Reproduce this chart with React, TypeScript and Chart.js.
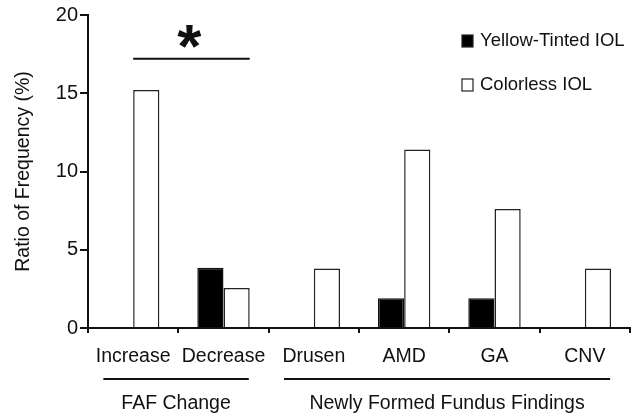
import React, { useEffect, useRef } from "react";
import { Chart, registerables } from "chart.js";

Chart.register(...registerables);

const categories = ["Increase", "Decrease", "Drusen", "AMD", "GA", "CNV"];
const yellowTinted = [0, 3.85, 0, 1.9, 1.9, 0];
const colorless = [15.2, 2.55, 3.8, 11.4, 7.6, 3.8];
const seriesNames = ["Yellow-Tinted IOL", "Colorless IOL"];
const yTicks = [0, 5, 10, 15, 20];
const groupLabels = ["FAF Change", "Newly Formed Fundus Findings"];
const groupFirst = [0, 2];
const groupLast = [1, 5];
const sigFirst = 0;
const sigLast = 1;
const sigValue = 17.2;

const FONT = "'Liberation Sans', Arial, sans-serif";

const overlayPlugin = {
  id: "overlay",
  afterDraw(chart: any) {
    const ctx = chart.ctx;
    const x = chart.scales.x;
    const y = chart.scales.y;
    const area = chart.chartArea;
    const cw = x.getPixelForValue(1) - x.getPixelForValue(0);
    ctx.save();
    ctx.strokeStyle = "#111";
    ctx.fillStyle = "#111";
    // group brackets
    for (let g = 0; g < groupLabels.length; g++) {
      const x0 = x.getPixelForValue(groupFirst[g]) - cw * 0.33;
      const x1 = x.getPixelForValue(groupLast[g]) + cw * 0.28;
      const ly = area.bottom + 51;
      ctx.lineWidth = 2;
      ctx.beginPath();
      ctx.moveTo(x0, ly);
      ctx.lineTo(x1, ly);
      ctx.stroke();
      ctx.font = `19.5px ${FONT}`;
      ctx.textAlign = "center";
      ctx.textBaseline = "middle";
      ctx.fillText(groupLabels[g], (x0 + x1) / 2, area.bottom + 76);
    }
    // significance
    const meta = chart.getDatasetMeta(1);
    const b0 = meta.data[sigFirst];
    const b1 = meta.data[sigLast];
    const sx0 = b0.x - b0.width / 2;
    const sx1 = b1.x + b1.width / 2;
    const sy = y.getPixelForValue(sigValue);
    ctx.lineWidth = 2;
    ctx.beginPath();
    ctx.moveTo(sx0, sy);
    ctx.lineTo(sx1, sy);
    ctx.stroke();
    ctx.font = `bold 62px ${FONT}`;
    ctx.textAlign = "center";
    ctx.textBaseline = "top";
    ctx.fillText("*", (sx0 + sx1) / 2 - 2, sy - 40);
    // legend
    const lx = area.right - 168;
    const ly0 = area.top + 26;
    const ds = chart.data.datasets;
    for (let i = 0; i < ds.length; i++) {
      const cy = ly0 + i * 44;
      ctx.fillStyle = ds[i].backgroundColor;
      ctx.fillRect(lx, cy - 6, 11, 12);
      ctx.lineWidth = 1.2;
      ctx.strokeStyle = "#222";
      ctx.strokeRect(lx, cy - 6, 11, 12);
      ctx.fillStyle = "#111";
      ctx.font = `18.5px ${FONT}`;
      ctx.textAlign = "left";
      ctx.textBaseline = "middle";
      ctx.fillText(ds[i].label, lx + 18, cy);
    }
    ctx.restore();
  },
};

export default function App() {
  const ref = useRef<HTMLCanvasElement | null>(null);
  useEffect(() => {
    if (!ref.current) return;
    const chart = new Chart(ref.current, {
      type: "bar",
      data: {
        labels: categories,
        datasets: [
          {
            label: seriesNames[0],
            data: yellowTinted,
            backgroundColor: "#000",
            borderColor: "#111",
            borderWidth: 1.5,
            barPercentage: 1,
            categoryPercentage: 0.58,
          },
          {
            label: seriesNames[1],
            data: colorless,
            backgroundColor: "#fff",
            borderColor: "#222",
            borderWidth: 1.5,
            barPercentage: 1,
            categoryPercentage: 0.58,
          },
        ],
      },
      options: {
        responsive: false,
        animation: false,
        devicePixelRatio: 1,
        layout: { padding: { left: 0, right: 9, top: 15, bottom: 0 } },
        plugins: { legend: { display: false }, tooltip: { enabled: false } },
        scales: {
          x: {
            grid: {
              display: true,
              drawOnChartArea: false,
              drawTicks: true,
              tickLength: 5,
              color: "#111",
              lineWidth: 2,
              offset: true,
            },
            border: { display: true, color: "#111", width: 2 },
            ticks: {
              font: { family: FONT, size: 19.5 },
              color: "#111",
              padding: 12,
              maxRotation: 0,
              autoSkip: false,
            },
            afterFit: (s: any) => {
              s.height = 90;
            },
          },
          y: {
            min: 0,
            max: 20,
            afterBuildTicks: (s: any) => {
              s.ticks = yTicks.map((v) => ({ value: v }));
            },
            grid: {
              display: true,
              drawOnChartArea: false,
              drawTicks: true,
              tickLength: 8,
              color: "#111",
              lineWidth: 2,
            },
            border: { display: true, color: "#111", width: 2 },
            ticks: {
              font: { family: FONT, size: 20 },
              color: "#111",
              padding: 2,
            },
            title: {
              display: true,
              text: "Ratio of Frequency (%)",
              font: { family: FONT, size: 19.5 },
              color: "#111",
              padding: { top: 12, bottom: 0 },
            },
            afterFit: (s: any) => {
              s.width = 88;
            },
          },
        },
      },
      plugins: [overlayPlugin],
    });
    return () => chart.destroy();
  }, []);
  return (
    <div style={{ position: "fixed", left: 0, top: 0, width: 639, height: 418, background: "#fff" }}>
      <canvas ref={ref} width={639} height={418} style={{ width: 639, height: 418 }} />
    </div>
  );
}
